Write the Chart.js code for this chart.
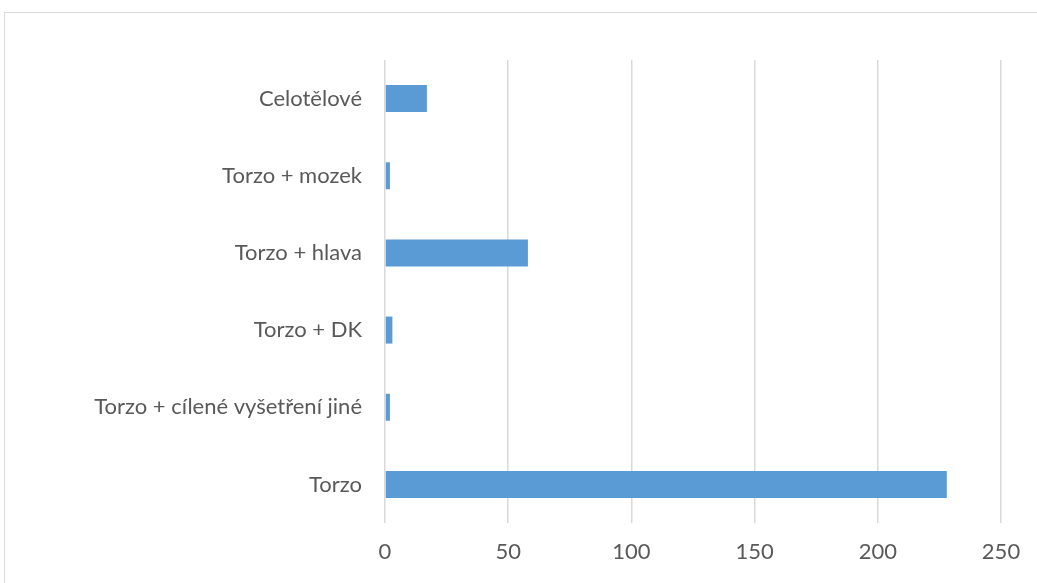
<!DOCTYPE html>
<html>
<head>
<meta charset="utf-8">
<script src="https://cdn.jsdelivr.net/npm/chart.js@4"></script>
<style>
  html, body { margin: 0; padding: 0; background: #fff; }
  #wrap { position: relative; width: 1037px; height: 583px; overflow: hidden; }
  #frame { position: absolute; left: 4px; top: 12px; width: 1100px; height: 650px; border: 1px solid #d9d9d9; }
  canvas { position: absolute; left: 0; top: 0; }
</style>
</head>
<body>
<div id="wrap">
  <div id="frame"></div>
  <canvas id="chart" width="1037" height="583"></canvas>
</div>
<script>
// typy CT vyšetření a počty pacientů
var kategorie = ['Celotělové', 'Torzo + mozek', 'Torzo + hlava', 'Torzo + DK', 'Torzo + cílené vyšetření jiné', 'Torzo'];
var pocty = [17, 2, 58, 3, 2, 228];
var osaX = [0, 50, 100, 150, 200, 250];

(function () {
  var fontLabel = { family: 'Lato', size: 22 };
  new Chart(document.getElementById('chart').getContext('2d'), {
    type: 'bar',
    data: {
      labels: kategorie,
      datasets: [{
        data: pocty,
        backgroundColor: '#5b9bd5',
        categoryPercentage: 1,
        barPercentage: 0.35
      }]
    },
    options: {
      indexAxis: 'y',
      responsive: false,
      animation: false,
      layout: { padding: { left: 0, right: 36, top: 60, bottom: 0 } },
      plugins: { legend: { display: false }, tooltip: { enabled: false } },
      scales: {
        x: {
          min: osaX[0],
          max: osaX[osaX.length - 1],
          afterBuildTicks: function (s) { s.ticks = osaX.map(function (v) { return { value: v }; }); },
          afterFit: function (s) { s.height = 60; },
          grid: { color: '#d9d9d9', lineWidth: 1.5, drawTicks: false },
          border: { display: false },
          ticks: { color: '#595959', font: fontLabel, padding: 16 }
        },
        y: {
          afterFit: function (s) { s.width = 385; },
          grid: { display: false, drawTicks: false },
          border: { display: false },
          ticks: { color: '#595959', font: fontLabel, padding: 23 }
        }
      }
    }
  });
})();
</script>
</body>
</html>
